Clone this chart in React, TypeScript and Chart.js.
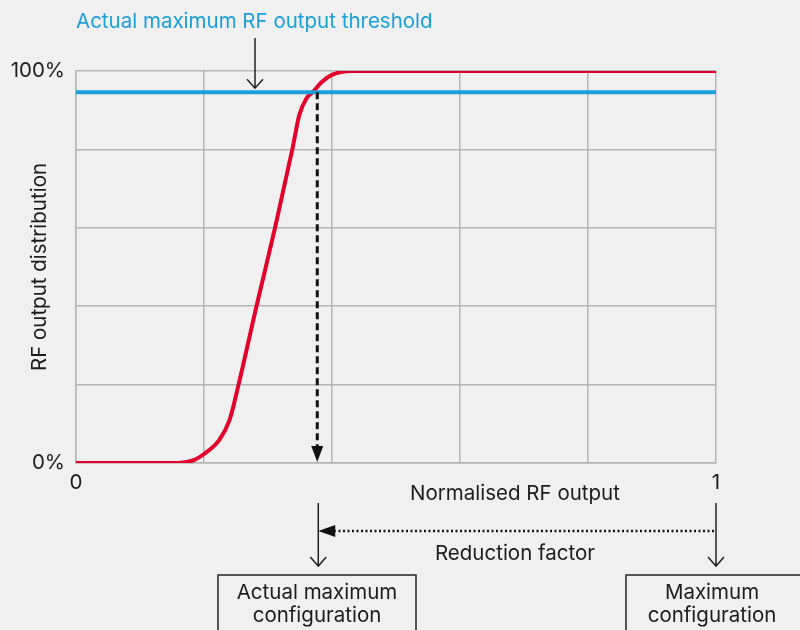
import React, { useEffect, useRef } from 'react';
import { Chart, registerables } from 'chart.js';

Chart.register(...registerables);

// Red curve: normalised RF output (x) vs cumulative RF output distribution (y)
const curveX = [0, 0.16, 0.185, 0.2, 0.224, 0.24, 0.254, 0.282, 0.311, 0.338, 0.349, 0.36, 0.37, 0.384, 0.4, 0.43, 1];
const curveY = [0, 0, 0.008, 0.023, 0.059, 0.11, 0.2, 0.4, 0.6, 0.8, 0.888, 0.93, 0.946, 0.972, 0.99, 1, 1];

// Threshold line
const thresholdX = [0, 1];
const thresholdY = [0.946, 0.946];

// Where the threshold meets the curve (actual maximum configuration)
const actualMaxX = 0.377;
const maximumX = 1;

// Tick labels
const xTickLabels: Record<string, string> = { '0': '0', '1': '1' };
const yTickLabels: Record<string, string> = { '0': '0%', '1': '100%' };

const TEXT = '#1c1c1c';
const BLUE = '#1a9fd8';
const RED = '#e2002b';
const GRID = '#b4b4b4';
const FONT = 'Inter, "Noto Sans", sans-serif';
const FS = 20.5;

function arrowV(ctx: CanvasRenderingContext2D, x: number, y0: number, y1: number) {
  ctx.beginPath();
  ctx.moveTo(x, y0);
  ctx.lineTo(x, y1);
  ctx.moveTo(x - 8, y1 - 9);
  ctx.lineTo(x, y1);
  ctx.lineTo(x + 8, y1 - 9);
  ctx.stroke();
}

const annotations = {
  id: 'annotations',
  afterDatasetsDraw(chart: any) {
    const { ctx, chartArea: ca, scales } = chart;
    const xs = scales.x;
    const ys = scales.y;
    ctx.save();
    ctx.font = `${FS}px ${FONT}`;

    // Dashed arrow from threshold crossing down to axis
    const ax = xs.getPixelForValue(actualMaxX);
    const ty = ys.getPixelForValue(thresholdY[0]);
    ctx.strokeStyle = '#111';
    ctx.lineWidth = 3;
    ctx.setLineDash([7, 4]);
    ctx.beginPath();
    ctx.moveTo(ax, ty);
    ctx.lineTo(ax, ca.bottom - 16);
    ctx.stroke();
    ctx.setLineDash([]);
    ctx.fillStyle = '#111';
    ctx.beginPath();
    ctx.moveTo(ax - 6, ca.bottom - 17);
    ctx.lineTo(ax + 6, ca.bottom - 17);
    ctx.lineTo(ax, ca.bottom - 1);
    ctx.closePath();
    ctx.fill();

    // Top title (blue)
    ctx.fillStyle = BLUE;
    ctx.textAlign = 'left';
    ctx.textBaseline = 'middle';
    ctx.fillText('Actual maximum RF output threshold', ca.left, 22);

    // Small arrow pointing to threshold line
    ctx.strokeStyle = '#222';
    ctx.lineWidth = 1.5;
    arrowV(ctx, 255, 38, ty - 4);

    // Y axis title
    ctx.save();
    ctx.translate(40, (ca.top + ca.bottom) / 2);
    ctx.rotate(-Math.PI / 2);
    ctx.fillStyle = TEXT;
    ctx.textAlign = 'center';
    ctx.textBaseline = 'middle';
    ctx.fillText('RF output distribution', 0, 0);
    ctx.restore();

    // X axis title
    ctx.fillStyle = TEXT;
    ctx.textAlign = 'center';
    ctx.fillText('Normalised RF output', 515, ca.bottom + 31);

    // Reduction factor arrows
    const mx = xs.getPixelForValue(maximumX);
    ctx.strokeStyle = '#222';
    ctx.lineWidth = 1.5;
    arrowV(ctx, ax + 1, ca.bottom + 40, ca.bottom + 103);
    arrowV(ctx, mx, ca.bottom + 40, ca.bottom + 103);

    const ry = ca.bottom + 68;
    ctx.strokeStyle = '#111';
    ctx.lineWidth = 2.5;
    ctx.setLineDash([2, 2.5]);
    ctx.beginPath();
    ctx.moveTo(mx - 2, ry);
    ctx.lineTo(ax + 18, ry);
    ctx.stroke();
    ctx.setLineDash([]);
    ctx.fillStyle = '#111';
    ctx.beginPath();
    ctx.moveTo(ax + 1, ry);
    ctx.lineTo(ax + 18, ry - 6);
    ctx.lineTo(ax + 18, ry + 6);
    ctx.closePath();
    ctx.fill();

    ctx.fillStyle = TEXT;
    ctx.fillText('Reduction factor', 515, ca.bottom + 91);

    // Boxes
    ctx.strokeStyle = '#222';
    ctx.lineWidth = 1.5;
    ctx.strokeRect(218, ca.bottom + 112, 198, 80);
    ctx.strokeRect(626, ca.bottom + 112, 200, 80);
    ctx.fillStyle = TEXT;
    ctx.fillText('Actual maximum', 317, ca.bottom + 130);
    ctx.fillText('configuration', 317, ca.bottom + 153);
    ctx.fillText('Maximum', 712, ca.bottom + 130);
    ctx.fillText('configuration', 712, ca.bottom + 153);

    ctx.restore();
  },
};

export default function App() {
  const ref = useRef<HTMLCanvasElement | null>(null);

  useEffect(() => {
    document.body.style.margin = '0';
    document.body.style.background = '#f0f0f0';
    const canvas = ref.current!;
    const chart = new Chart(canvas, {
      type: 'line',
      data: {
        datasets: [
          {
            label: 'Threshold',
            data: thresholdX.map((x, i) => ({ x, y: thresholdY[i] })),
            borderColor: BLUE,
            borderWidth: 4,
            pointRadius: 0,
            tension: 0,
          },
          {
            label: 'RF output distribution',
            data: curveX.map((x, i) => ({ x, y: curveY[i] })),
            borderColor: RED,
            borderWidth: 4,
            pointRadius: 0,
            cubicInterpolationMode: 'monotone',
          },
        ],
      },
      options: {
        responsive: false,
        animation: false,
        devicePixelRatio: 1,
        layout: { padding: { left: 0, top: 71, right: 84, bottom: 0 } },
        plugins: { legend: { display: false }, tooltip: { enabled: false } },
        scales: {
          x: {
            type: 'linear',
            min: 0,
            max: 1,
            afterFit: (s: any) => { s.height = 167; },
            grid: { color: GRID, lineWidth: 1.5, drawTicks: false },
            border: { color: GRID, width: 1.5 },
            ticks: {
              stepSize: 0.2,
              autoSkip: false,
              maxRotation: 0,
              padding: 8,
              color: TEXT,
              font: { family: FONT, size: FS },
              callback: (v: any) => xTickLabels[String(v)] ?? '',
            },
          },
          y: {
            type: 'linear',
            min: 0,
            max: 1,
            afterFit: (s: any) => { s.width = 76; },
            grid: { color: GRID, lineWidth: 1.5, drawTicks: false },
            border: { color: GRID, width: 1.5 },
            ticks: {
              stepSize: 0.2,
              autoSkip: false,
              padding: 11,
              color: TEXT,
              font: { family: FONT, size: FS },
              callback: (v: any) => yTickLabels[String(v)] ?? '',
            },
          },
        },
      },
      plugins: [annotations],
    } as any);
    return () => chart.destroy();
  }, []);

  return (
    <div style={{ position: 'fixed', left: 0, top: 0, width: 800, height: 630, background: '#f0f0f0' }}>
      <canvas ref={ref} width={800} height={630} />
    </div>
  );
}
